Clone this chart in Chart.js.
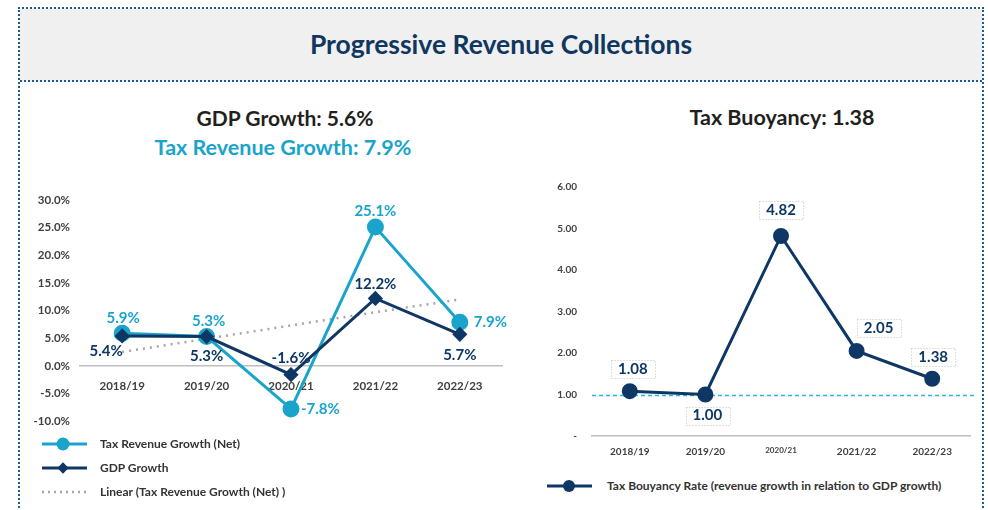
<!DOCTYPE html>
<html>
<head>
<meta charset="utf-8">
<script src="https://cdn.jsdelivr.net/npm/chart.js@4.4.1/dist/chart.umd.min.js"></script>
<style>
body{margin:0;width:988px;height:510px;background:#fff;font-family:Lato,sans-serif;overflow:hidden;position:relative}
#frame{position:absolute;left:18px;top:7px;width:962px;height:530px;border:2px dotted #1d5a8e;border-bottom:none}
#head{height:71px;background:#f0f0f0;border-bottom:2px dotted #1d5a8e;text-align:center;font-weight:bold;font-size:26.5px;color:#10375f;line-height:70px}
canvas{position:absolute}
.ttl{position:absolute;width:400px;text-align:center;font-weight:bold;font-size:21px;line-height:24px;color:#231f20;white-space:nowrap}
.leg{position:absolute;font-size:12px;font-weight:bold;color:#333;height:16px;line-height:16px;white-space:nowrap}
.leg svg{position:absolute;top:1px}
.leg span{position:absolute}
</style>
</head>
<body>
<div id="frame"><div id="head">Progressive Revenue Collections</div></div>
<div class="ttl" style="left:85px;top:106px">GDP Growth: 5.6%</div>
<div class="ttl" style="left:83px;top:135px;color:#1aa4cb;font-size:21.5px">Tax Revenue Growth: 7.9%</div>
<div class="ttl" style="left:582px;top:105px;font-size:21.5px">Tax Buoyancy: 1.38</div>
<canvas id="growth" width="490" height="343" style="left:22px;top:95px"></canvas>
<canvas id="buoy" width="450" height="381" style="left:530px;top:95px"></canvas>

<div class="leg" style="left:42px;top:436px">
  <svg width="46" height="14"><line x1="0" y1="7" x2="45" y2="7" stroke="#1aa4cb" stroke-width="3"/><circle cx="21" cy="7" r="6.5" fill="#1aa4cb"/></svg>
  <span style="left:58px">Tax Revenue Growth (Net)</span>
</div>
<div class="leg" style="left:42px;top:460px">
  <svg width="46" height="14"><line x1="0" y1="7" x2="45" y2="7" stroke="#0e3766" stroke-width="3"/><rect x="17" y="3" width="8" height="8" fill="#0e3766" transform="rotate(45 21 7)"/></svg>
  <span style="left:58px">GDP Growth</span>
</div>
<div class="leg" style="left:42px;top:484px">
  <svg width="46" height="14"><line x1="0" y1="7" x2="46" y2="7" stroke="#a6a6a6" stroke-width="2.5" stroke-dasharray="2 4"/></svg>
  <span style="left:58px">Linear (Tax Revenue Growth (Net) )</span>
</div>
<div class="leg" style="left:547px;top:478px">
  <svg width="46" height="14"><line x1="0" y1="7" x2="45" y2="7" stroke="#0e3766" stroke-width="3"/><circle cx="22" cy="7" r="6" fill="#0e3766"/></svg>
  <span style="left:60px">Tax Bouyancy Rate (revenue growth in relation to GDP growth)</span>
</div>

<script>
// values
const years = ['2018/19', '2019/20', '2020/21', '2021/22', '2022/23'];
const taxGrowth = [5.9, 5.3, -7.8, 25.1, 7.9];
const gdpGrowth = [5.4, 5.3, -1.6, 12.2, 5.7];
const taxTrend = [2.5, 4.9, 7.3, 9.7, 12.0];
const growthAxis = [-10, 30, 5];
const buoyancy = [1.08, 1.00, 4.82, 2.05, 1.38];
const buoyancyRef = 1;
const buoyancyAxis = [0, 6, 1];

const CYAN = '#1aa4cb';
const NAVY = '#0e3766';
Chart.defaults.font.family = 'Lato, sans-serif';

// draws value labels next to the points (no datalabels plugin offline)
const valueLabels = {
    id: 'valueLabels',
    afterDatasetsDraw(chart) {
        const ctx = chart.ctx;
        chart.data.datasets.forEach((ds, i) => {
            if (!ds.labelOffsets) return;
            const meta = chart.getDatasetMeta(i);
            meta.data.forEach((pt, j) => {
                const off = ds.labelOffsets[j];
                const txt = ds.labelDigits === 2 ? ds.data[j].toFixed(2) : ds.data[j].toFixed(1) + '%';
                const x = pt.x + off[0], y = pt.y + off[1];
                ctx.save();
                ctx.font = 'bold 15px Lato, sans-serif';
                ctx.textAlign = off[2] || 'center';
                ctx.textBaseline = 'middle';
                if (ds.labelBox) {
                    const w = ctx.measureText(txt).width + 14;
                    ctx.strokeStyle = '#bfbfbf';
                    ctx.lineWidth = 1;
                    ctx.setLineDash([1, 2]);
                    ctx.strokeRect(Math.round(x - w / 2) + 0.5, Math.round(y - 9) + 0.5, Math.round(w), 18);
                    ctx.setLineDash([]);
                }
                ctx.fillStyle = ds.labelColor;
                ctx.fillText(txt, x, y);
                ctx.restore();
            });
        });
    }
};

// dashed reference line across the plot
const refLine = {
    id: 'refLine',
    beforeDatasetsDraw(chart) {
        if (chart.canvas.id !== 'buoy') return;
        const ctx = chart.ctx, a = chart.chartArea;
        const y = Math.round(chart.scales.y.getPixelForValue(buoyancyRef)) + 0.5;
        ctx.save();
        ctx.strokeStyle = '#2bb5dc';
        ctx.lineWidth = 1.5;
        ctx.setLineDash([4, 3]);
        ctx.beginPath();
        ctx.moveTo(a.left, y);
        ctx.lineTo(a.right + 5, y);
        ctx.stroke();
        ctx.restore();
    }
};

new Chart(document.getElementById('growth'), {
    type: 'line',
    data: {
        labels: years,
        datasets: [{
            label: 'Tax Revenue Growth (Net)',
            data: taxGrowth,
            borderColor: CYAN,
            backgroundColor: CYAN,
            borderWidth: 3,
            pointRadius: 7,
            pointHoverRadius: 7,
            order: 2,
            labelColor: CYAN,
            labelOffsets: [[1, -15], [2, -15], [10, 0, 'left'], [0, -16], [14, 0, 'left']]
        }, {
            label: 'GDP Growth',
            data: gdpGrowth,
            borderColor: NAVY,
            backgroundColor: NAVY,
            borderWidth: 3,
            pointStyle: 'rectRot',
            pointRadius: 5.5,
            pointHoverRadius: 5.5,
            order: 1,
            labelColor: NAVY,
            labelOffsets: [[-16, 15], [0, 20], [0, -17], [0, -14], [0, 21]]
        }, {
            label: 'Linear (Tax Revenue Growth (Net) )',
            data: taxTrend,
            borderColor: '#a6a6a6',
            borderWidth: 2.5,
            borderDash: [2, 5],
            pointRadius: 0,
            order: 3
        }]
    },
    options: {
        responsive: false,
        animation: false,
        layout: { padding: { top: 105, right: 7, bottom: 8 } },
        plugins: {
            legend: { display: false },
            tooltip: { enabled: false }
        },
        scales: {
            x: {
                position: { y: 0 },
                offset: true,
                grid: { display: false, drawTicks: false },
                border: { color: '#bfbfbf', width: 1.5 },
                ticks: { color: '#404040', font: { size: 11.5, weight: 'bold' }, padding: 14 },
                afterFit(s) { s.height = 0; }
            },
            y: {
                min: growthAxis[0],
                max: growthAxis[1],
                grid: { display: false, drawTicks: false },
                border: { display: false },
                ticks: {
                    stepSize: growthAxis[2],
                    color: '#404040',
                    font: { size: 11.5, weight: 'bold' },
                    padding: 10,
                    callback: v => v.toFixed(1) + '%'
                },
                afterFit(s) { s.width = 58; }
            }
        }
    },
    plugins: [valueLabels]
});

new Chart(document.getElementById('buoy'), {
    type: 'line',
    data: {
        labels: years,
        datasets: [{
            label: 'Tax Bouyancy Rate (revenue growth in relation to GDP growth)',
            data: buoyancy,
            borderColor: NAVY,
            backgroundColor: NAVY,
            borderWidth: 3,
            pointRadius: 6.5,
            pointHoverRadius: 6.5,
            labelColor: NAVY,
            labelDigits: 2,
            labelBox: true,
            labelOffsets: [[3, -22], [2, 21], [0, -26], [22, -23], [1, -22]]
        }]
    },
    options: {
        responsive: false,
        animation: false,
        layout: { padding: { top: 92, right: 10, bottom: 8 } },
        plugins: {
            legend: { display: false },
            tooltip: { enabled: false }
        },
        scales: {
            x: {
                offset: true,
                grid: { display: false, drawTicks: false },
                border: { color: '#bfbfbf', width: 1.5 },
                ticks: {
                    color: '#404040',
                    font: c => ({ size: c.index === 2 ? 8 : 10, weight: 'bold' }),
                    padding: 10
                }
            },
            y: {
                min: buoyancyAxis[0],
                max: buoyancyAxis[1],
                grid: { display: false, drawTicks: false },
                border: { display: false },
                ticks: {
                    stepSize: buoyancyAxis[2],
                    color: '#404040',
                    font: { size: 10, weight: 'bold' },
                    padding: 15,
                    callback: v => v === 0 ? '-' : v.toFixed(2)
                },
                afterFit(s) { s.width = 62; }
            }
        }
    },
    plugins: [valueLabels, refLine]
});
</script>
</body>
</html>
